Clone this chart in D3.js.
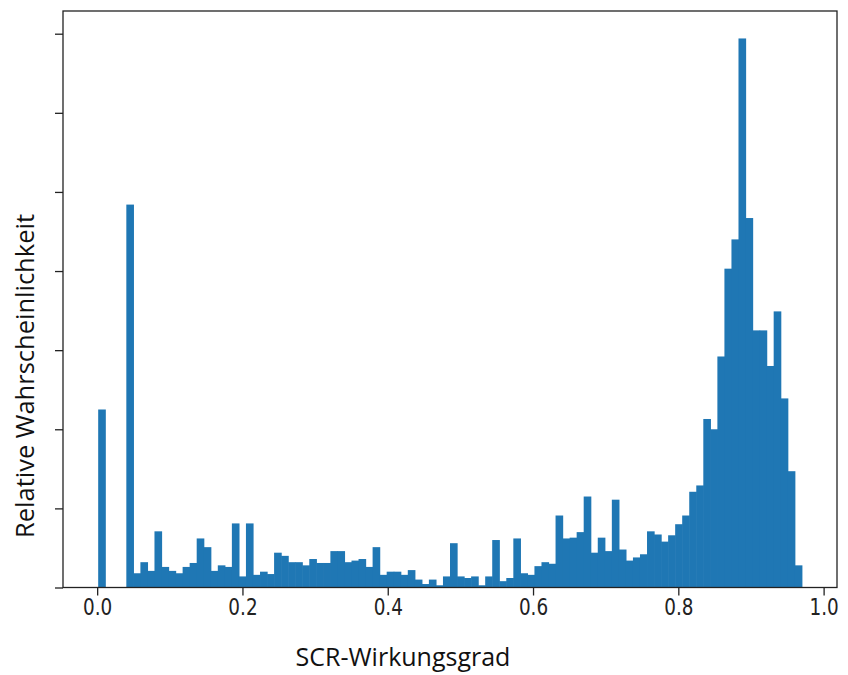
<!DOCTYPE html>
<html>
<head>
<meta charset="utf-8">
<script src="https://cdn.jsdelivr.net/npm/d3@7"></script>
<style>
  body { margin: 0; background: #fff; }
  svg { display: block; }
</style>
</head>
<body>
<svg width="848" height="675"></svg>
<script>
// histogram: 100 bins between the smallest and largest efficiency
var binStart = 0.0014, binEnd = 0.9700;
var counts = [
  2.25, 0, 0, 0, 4.84, 0.18, 0.32, 0.21, 0.71, 0.26,
  0.21, 0.18, 0.26, 0.31, 0.62, 0.51, 0.21, 0.28, 0.26, 0.81,
  0.14, 0.81, 0.16, 0.20, 0.17, 0.44, 0.40, 0.32, 0.32, 0.28,
  0.36, 0.31, 0.31, 0.46, 0.46, 0.32, 0.34, 0.36, 0.26, 0.51,
  0.16, 0.20, 0.20, 0.16, 0.22, 0.10, 0.044, 0.10, 0.028, 0.14,
  0.56, 0.14, 0.12, 0.14, 0.028, 0.14, 0.60, 0.08, 0.12, 0.62,
  0.18, 0.16, 0.27, 0.32, 0.30, 0.91, 0.62, 0.63, 0.70, 1.15,
  0.44, 0.63, 0.46, 1.11, 0.48, 0.34, 0.38, 0.42, 0.71, 0.67,
  0.58, 0.66, 0.80, 0.91, 1.21, 1.29, 2.13, 2.00, 2.92, 4.03,
  4.40, 6.94, 4.67, 3.25, 3.25, 2.80, 3.49, 2.39, 1.47, 0.28
];
var xTicks = [0, 0.2, 0.4, 0.6, 0.8, 1.0];
var yTicks = [0, 1, 2, 3, 4, 5, 6, 7];   // ohne Beschriftung
var xTitle = "SCR-Wirkungsgrad";
var yTitle = "Relative Wahrscheinlichkeit";

var svg = d3.select("svg");
// plot box (window.top ist reserviert, deshalb eigene namen)
var pLeft = 63, pRight = 837, pTop = 11, pBottom = 587.5;

var binW = (binEnd - binStart) / counts.length;
var bins = counts.map(function(c, i) {
  return { x0: binStart + i * binW, x1: binStart + (i + 1) * binW, v: c };
});

// matplotlib-artige Raender: 5% in x, oben 5%
var span = binEnd - binStart;
var x = d3.scaleLinear()
    .domain([binStart - 0.05 * span, binEnd + 0.05 * span])
    .range([pLeft, pRight]);
var y = d3.scaleLinear()
    .domain([0, d3.max(counts) * 1.05])
    .range([pBottom, pTop]);

var g = svg.append("g");

//balken
g.append("g")
    .selectAll("rect")
    .data(bins.filter(function(d) { return d.v > 0; }))
    .enter().append("rect")
    .attr("x", function(d) { return x(d.x0); })
    .attr("width", function(d) { return x(d.x1) - x(d.x0) + 0.6; })
    .attr("y", function(d) { return y(d.v); })
    .attr("height", function(d) { return pBottom - y(d.v); })
    .attr("fill", "#1f77b4");

// x axis
var xAxis = d3.axisBottom(x)
    .tickValues(xTicks)
    .tickFormat(d3.format(".1f"))
    .tickSize(8)
    .tickPadding(3);
var gx = g.append("g")
    .attr("transform", "translate(0," + pBottom + ")")
    .call(xAxis);
gx.select(".domain").remove();
gx.selectAll("line").attr("stroke", "#222").attr("stroke-width", 1.3);
// schmaler gestauchte ziffern wie im original
gx.selectAll("text")
    .attr("fill", "#222")
    .attr("transform", "scale(0.8,1)")
    .style("font-family", "'DejaVu Sans', sans-serif")
    .style("font-size", "23px");

// y axis, ticks only
var yAxis = d3.axisLeft(y)
    .tickValues(yTicks)
    .tickFormat("")
    .tickSize(8);
var gy = g.append("g")
    .attr("transform", "translate(" + pLeft + ",0)")
    .call(yAxis);
gy.select(".domain").remove();
gy.selectAll("line").attr("stroke", "#222").attr("stroke-width", 1.3);

// rahmen
g.append("rect")
    .attr("x", pLeft)
    .attr("y", pTop)
    .attr("width", pRight - pLeft)
    .attr("height", pBottom - pTop)
    .attr("fill", "none")
    .attr("stroke", "#222")
    .attr("stroke-width", 1.3);

svg.append("text")
    .attr("x", 403)
    .attr("y", 666)
    .attr("text-anchor", "middle")
    .style("font-family", "'Open Sans', sans-serif")
    .style("font-size", "25px")
    .attr("fill", "#111")
    .text(xTitle);

svg.append("text")
    .attr("transform", "translate(34," + 376 + ") rotate(-90)")
    .attr("text-anchor", "middle")
    .style("font-family", "'Open Sans', sans-serif")
    .style("font-size", "25.5px")
    .attr("fill", "#111")
    .text(yTitle);
</script>
</body>
</html>
